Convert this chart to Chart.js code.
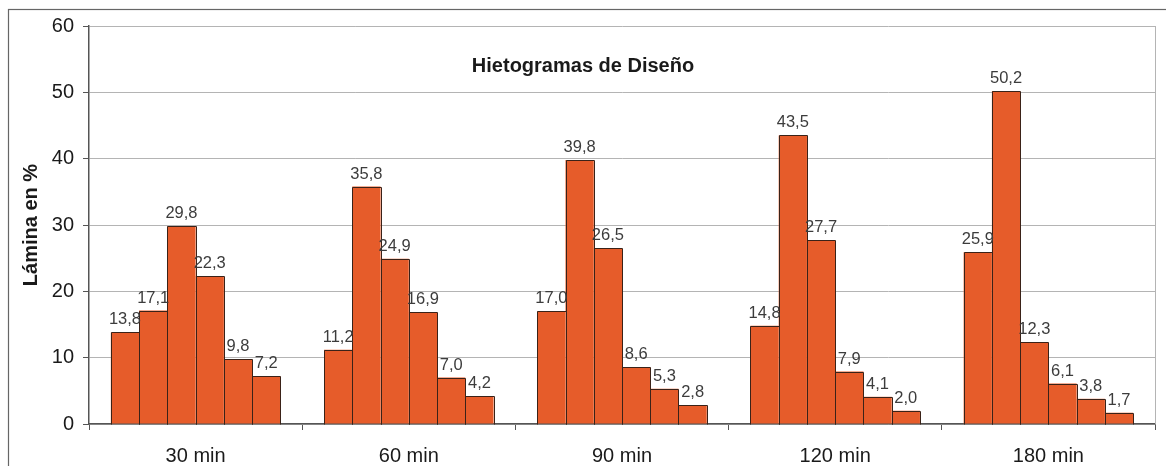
<!DOCTYPE html>
<html>
<head>
<meta charset="utf-8">
<script src="https://cdn.jsdelivr.net/npm/chart.js@4/dist/chart.umd.min.js"></script>
<style>
  html, body { margin: 0; padding: 0; background: #ffffff; }
  #wrap { width: 1166px; height: 466px; position: relative; }
</style>
</head>
<body>
<div id="wrap"><canvas id="c" width="1166" height="466"></canvas></div>
<script>
// Storm durations (categories) and the six time blocks of each design hyetograph (% of depth)
const durations = ['30 min', '60 min', '90 min', '120 min', '180 min'];
const block1 = [13.8, 11.2, 17.0, 14.8, 25.9];
const block2 = [17.1, 35.8, 39.8, 43.5, 50.2];
const block3 = [29.8, 24.9, 26.5, 27.7, 12.3];
const block4 = [22.3, 16.9, 8.6, 7.9, 6.1];
const block5 = [9.8, 7.0, 5.3, 4.1, 3.8];
const block6 = [7.2, 4.2, 2.8, 2.0, 1.7];
const yTicks = [0, 10, 20, 30, 40, 50, 60];
const chartTitle = 'Hietogramas de Diseño';
const yTitle = 'Lámina en %';

const FONT = '"Liberation Sans", Arial, sans-serif';
const BAR_FILL = '#E65C2A';
const BAR_EDGE = '#3a2218';

const blocks = [block1, block2, block3, block4, block5, block6];

// Outer frame and white background
const framePlugin = {
  id: 'frame',
  beforeDraw(chart) {
    const ctx = chart.ctx;
    ctx.save();
    ctx.fillStyle = '#ffffff';
    ctx.fillRect(0, 0, chart.width, chart.height);
    ctx.strokeStyle = '#666666';
    ctx.lineWidth = 1.2;
    ctx.strokeRect(8.5, 9.5, chart.width + 20, chart.height + 20);
    ctx.restore();
  }
};

// Right edge of the plot area
const plotEdgePlugin = {
  id: 'plotEdge',
  beforeDatasetsDraw(chart) {
    const {ctx, chartArea} = chart;
    ctx.save();
    ctx.strokeStyle = '#b4b4b4';
    ctx.lineWidth = 1;
    ctx.beginPath();
    ctx.moveTo(Math.round(chartArea.right) + 0.5, chartArea.top);
    ctx.lineTo(Math.round(chartArea.right) + 0.5, chartArea.bottom);
    ctx.stroke();
    ctx.restore();
  }
};

// Thin pixel-aligned outline around every bar, so neighbouring bars share one edge line
const barOutlinePlugin = {
  id: 'barOutline',
  afterDatasetsDraw(chart) {
    const ctx = chart.ctx;
    ctx.save();
    ctx.strokeStyle = BAR_EDGE;
    ctx.lineWidth = 1;
    chart.data.datasets.forEach((ds, i) => {
      chart.getDatasetMeta(i).data.forEach(bar => {
        const {x, y, width, base} = bar.getProps(['x', 'y', 'width', 'base'], true);
        const l = Math.round(x - width / 2) + 0.5;
        const r = Math.round(x + width / 2) + 0.5;
        const t = Math.round(y) + 0.5;
        const b = Math.round(base) + 0.5;
        ctx.beginPath();
        ctx.moveTo(l, b);
        ctx.lineTo(l, t);
        ctx.lineTo(r, t);
        ctx.lineTo(r, b);
        ctx.stroke();
      });
    });
    ctx.restore();
  }
};

// Value labels above each bar, decimal comma
const valueLabelPlugin = {
  id: 'valueLabels',
  afterDatasetsDraw(chart) {
    const ctx = chart.ctx;
    ctx.save();
    ctx.font = '16.5px ' + FONT;
    ctx.fillStyle = '#3c3c3c';
    ctx.textAlign = 'center';
    ctx.textBaseline = 'alphabetic';
    chart.data.datasets.forEach((ds, i) => {
      const meta = chart.getDatasetMeta(i);
      meta.data.forEach((bar, j) => {
        const txt = ds.data[j].toFixed(1).replace('.', ',');
        ctx.fillText(txt, bar.x, bar.y - 8);
      });
    });
    ctx.restore();
  }
};

// Chart heading inside the plot area
const headingPlugin = {
  id: 'heading',
  afterDraw(chart) {
    const ctx = chart.ctx;
    ctx.save();
    ctx.font = 'bold 20px ' + FONT;
    ctx.fillStyle = '#1a1a1a';
    ctx.textAlign = 'center';
    ctx.textBaseline = 'alphabetic';
    ctx.fillText(chartTitle, chart.width / 2, 72);
    ctx.restore();
  }
};

new Chart(document.getElementById('c'), {
  type: 'bar',
  data: {
    labels: durations,
    datasets: blocks.map((vals, i) => ({
      label: 'Bloque ' + (i + 1),
      data: vals,
      backgroundColor: BAR_FILL,
      borderWidth: 0,
      categoryPercentage: 0.795,
      barPercentage: 1.0
    }))
  },
  options: {
    responsive: false,
    devicePixelRatio: 1,
    animation: false,
    layout: { padding: { left: 0, top: 26, right: 11, bottom: 0 } },
    plugins: {
      legend: { display: false },
      title: { display: false },
      tooltip: { enabled: false }
    },
    scales: {
      x: {
        grid: {
          display: true,
          drawOnChartArea: false,
          drawTicks: true,
          tickLength: 6,
          tickColor: '#555555',
          offset: true
        },
        border: { display: true, color: '#555555', width: 1.5 },
        ticks: {
          color: '#1a1a1a',
          font: { family: FONT, size: 20 },
          padding: 14,
          maxRotation: 0
        },
        afterFit(scale) { scale.height = 42; }
      },
      y: {
        min: 0,
        max: 60,
        afterBuildTicks(scale) { scale.ticks = yTicks.map(v => ({ value: v })); },
        grid: {
          color: '#b4b4b4',
          lineWidth: 1,
          drawTicks: true,
          tickLength: 6,
          tickColor: '#555555'
        },
        border: { display: true, color: '#555555', width: 1.5 },
        ticks: {
          color: '#1a1a1a',
          font: { family: FONT, size: 20 },
          padding: 9
        },
        title: {
          display: true,
          text: yTitle,
          color: '#1a1a1a',
          font: { family: FONT, size: 20, weight: 'bold' },
          padding: { top: 19, bottom: 0 }
        },
        afterFit(scale) { scale.width = 89; }
      }
    }
  },
  plugins: [framePlugin, plotEdgePlugin, barOutlinePlugin, valueLabelPlugin, headingPlugin]
});
</script>
</body>
</html>
